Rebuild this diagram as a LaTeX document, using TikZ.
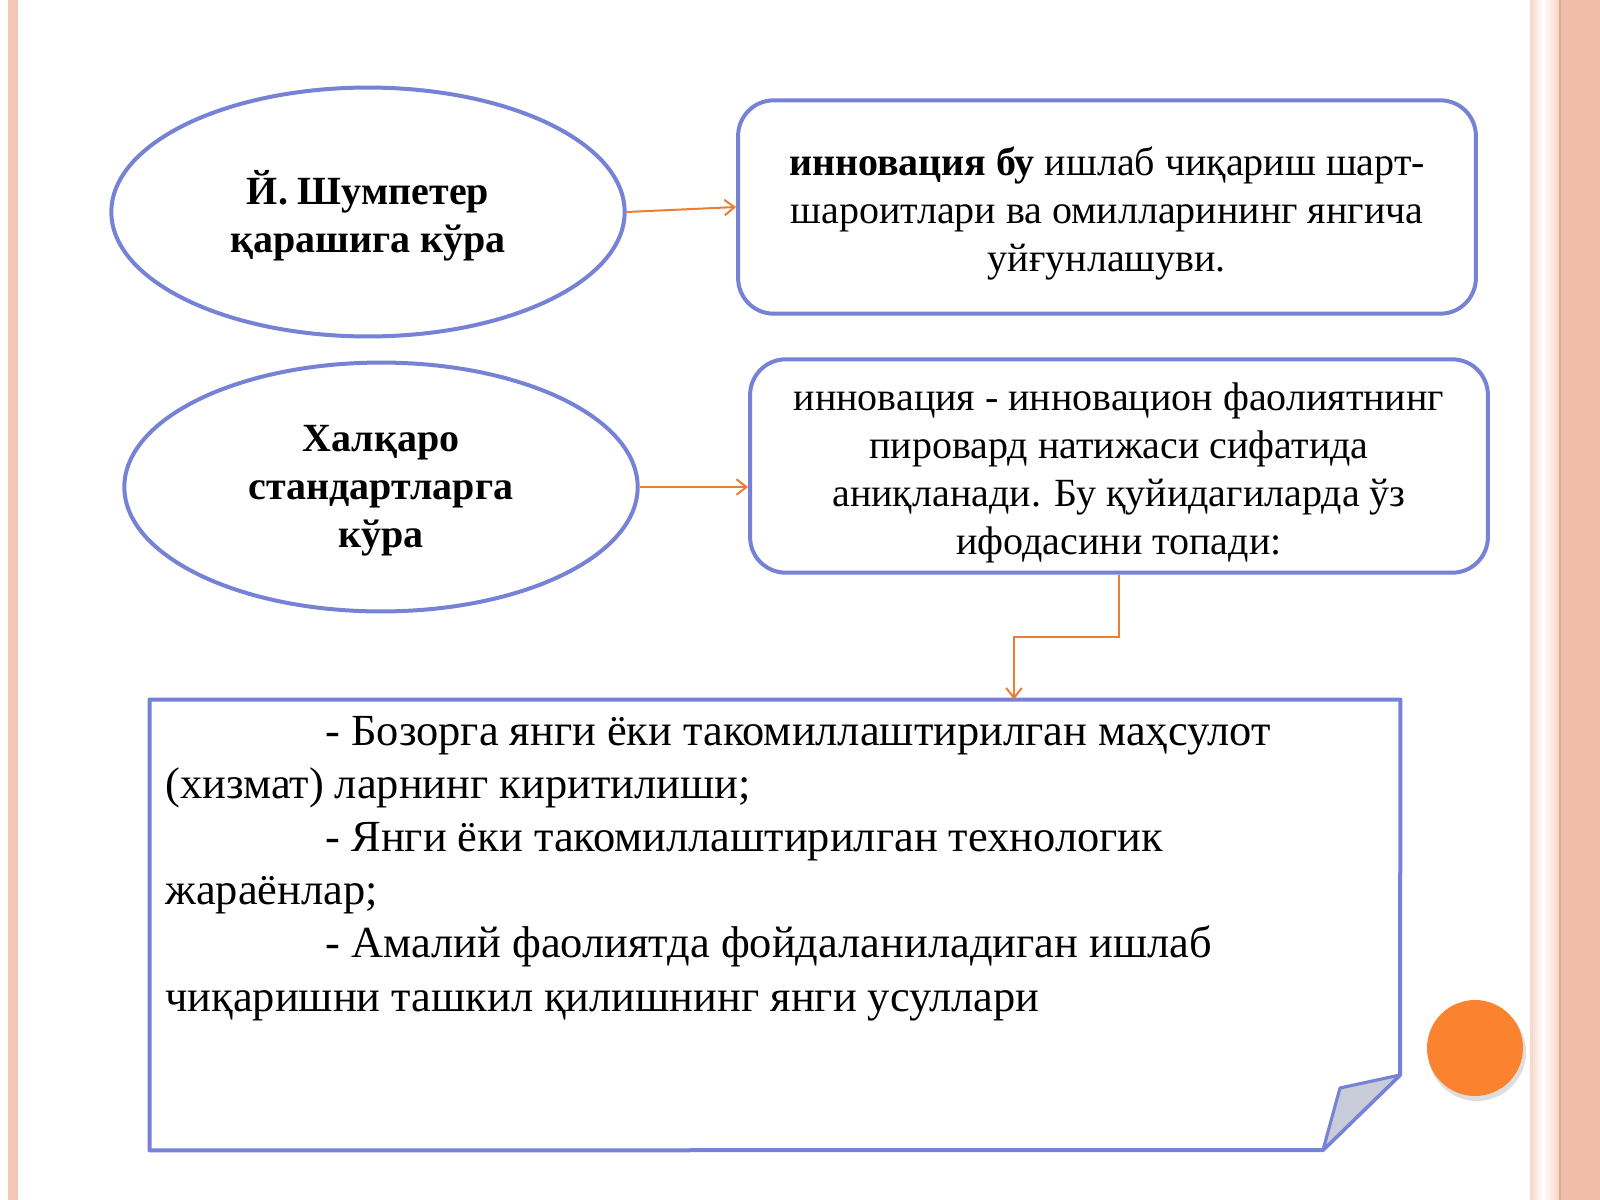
\documentclass[tikz,border=0pt]{standalone}
\usepackage{fontspec}
\setmainfont{Liberation Serif}
\usetikzlibrary{shapes.geometric,arrows.meta,positioning}
\definecolor{frameblue}{RGB}{118,130,214}
\definecolor{arrorange}{RGB}{237,125,49}
\definecolor{stripe}{RGB}{240,190,168}
\definecolor{stripelight}{RGB}{246,214,202}
\definecolor{dotorange}{RGB}{251,131,48}
\definecolor{foldgray}{RGB}{200,204,216}

\begin{document}
\begin{tikzpicture}[x=0.45pt,y=-0.45pt,
  oval/.style={ellipse,draw=frameblue,line width=1.8pt,minimum width=231pt,minimum height=112pt},
  ovaltext/.style={align=center,font=\fontsize{18}{21.6}\selectfont\bfseries},
  defbox/.style={rectangle,rounded corners=16pt,draw=frameblue,line width=1.8pt,minimum width=332pt,
    minimum height=96pt},
  deftext/.style={align=center,font=\fontsize{18}{21.6}\selectfont},
  arr/.style={draw=arrorange,line width=0.9pt,-{Straight Barb[length=4.5pt,width=7pt]}}]
  \useasboundingbox (0,0) rectangle (1600,1200);
  \fill[white] (0,0) rectangle (1600,1200);
  % slide edges
  \fill[stripe!85] (8,0) rectangle (18,1200);
  \shade[left color=stripelight,right color=white] (1530,0) rectangle (1543,1200);
  \shade[left color=white,right color=stripelight!90!stripe] (1543,0) rectangle (1559,1200);
  \fill[stripe!90!black] (1559,0) rectangle (1561,1200);
  \fill[stripe] (1561,0) rectangle (1600,1200);

  \node[oval] (schump) at (368,212) {};
  \node[ovaltext] (schumptext) at ([yshift=-1.8pt]schump.center) {Й. Шумпетер\\қарашига кўра};
  \node[oval] (intl) at (381,487) {};
  \node[ovaltext] (intltext) at ([yshift=-1.8pt]intl.center) {Халқаро\\стандартларга\\кўра};
  \node[defbox] (innovdef) at (1107,207) {};
  \node[deftext] (innovdeftext) at ([yshift=-2.8pt]innovdef.center)
    {\textbf{инновация бу} ишлаб чиқариш шарт-\\шароитлари ва омилларининг янгича\\уйғунлашуви.};
  \node[defbox] (innovres) at (1119,466) {};
  \node[deftext] (innovrestext) at ([yshift=-3.2pt]innovres.center)
    {инновация - инновацион фаолиятнинг\\пировард натижаси сифатида\\аниқланади. Бу қуйидагиларда ўз\\ифодасини топади:};

  % note with folded corner
  \node[rectangle,minimum width=562.5pt,minimum height=202.5pt,inner sep=0pt] (note) at (775,925) {};
  \draw[frameblue,line width=1.8pt,line join=round] (note.north west) -- (note.north east) -- (1400,1075)
    -- (1323,1150) -- (note.south west) -- cycle;
  \draw[frameblue,line width=1.4pt,fill=foldgray,line join=round] (1400,1075) -- (1340,1088) -- (1323,1150) -- cycle;
  \node[anchor=north west,inner sep=0pt,align=left,font=\fontsize{20}{23.9}\selectfont] (notetext) at (165,716)
    {\hspace*{72pt}- Бозорга янги ёки такомиллаштирилган маҳсулот\\(хизмат) ларнинг киритилиши;\\
     \hspace*{72pt}- Янги ёки такомиллаштирилган технологик\\жараёнлар;\\
     \hspace*{72pt}- Амалий фаолиятда фойдаланиладиган ишлаб\\чиқаришни ташкил қилишнинг янги усуллари};

  \draw[arr] (schump.east) -- (innovdef.west);
  \draw[arr] (intl.east) -- (intl.east -| innovres.west);
  \coordinate (bend) at (1014,637);
  \draw[arr] (innovres.south) |- (bend) -- (bend |- note.north);

  \fill[black!25,opacity=0.5] (1477,1052) circle (49);
  \fill[dotorange] (1475,1048) circle (48);
\end{tikzpicture}
\end{document}
